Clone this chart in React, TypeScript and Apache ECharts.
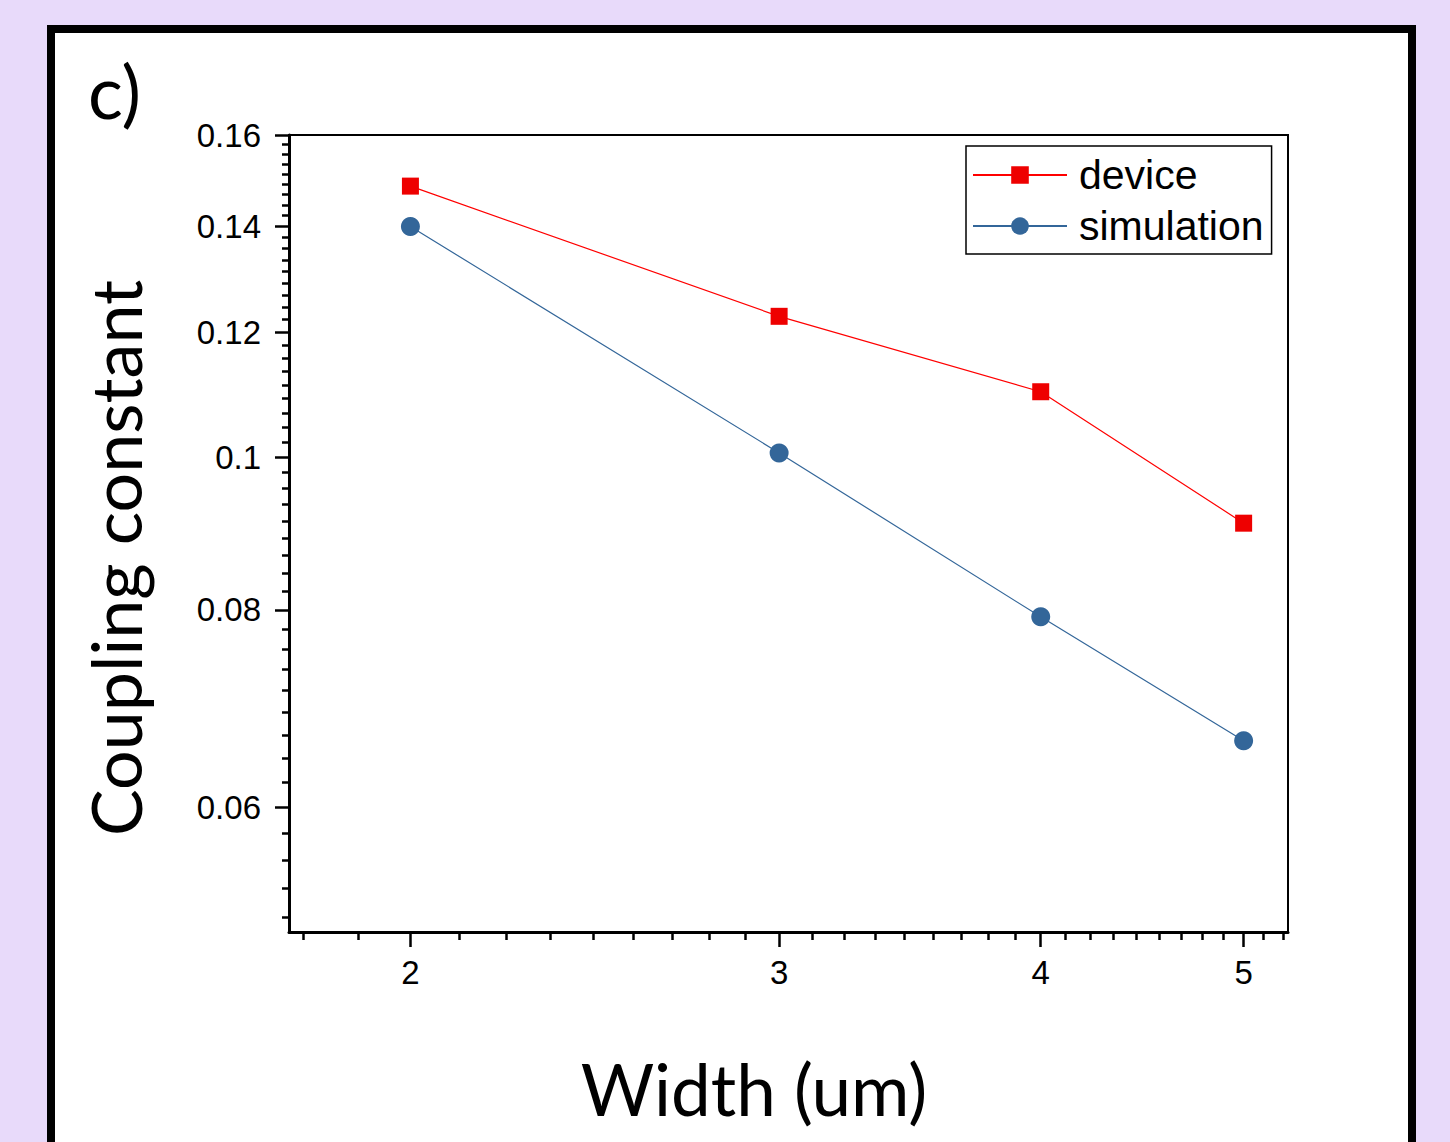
import React, { useEffect, useRef } from "react";
import * as echarts from "echarts";

// ---- data ----
const widths = [2, 3, 4, 5];
const deviceValues = [0.1485, 0.1228, 0.11, 0.0908];
const simulationValues = [0.14, 0.1006, 0.0792, 0.0661];

// ---- axes ----
const xRange = [1.75, 5.25];
const yRange = [0.05, 0.16];
const xMajorTicks = [2, 3, 4, 5];
const yMajorTicks = [0.06, 0.08, 0.1, 0.12, 0.14, 0.16];
const xMajorStep = 1;
const yMajorStep = 0.02;
const minorPerMajor = 8;

function minorTicks(range: number[], step: number, n: number): number[] {
  const out: number[] = [];
  const start = Math.floor(range[0] / step) * step;
  for (let base = start; base < range[1]; base += step) {
    for (let j = 1; j <= n; j++) {
      const v = +(base + (j * step) / (n + 1)).toFixed(6);
      if (v >= range[0] && v <= range[1]) out.push(v);
    }
  }
  return out;
}

const xMinorTicks = minorTicks(xRange, xMajorStep, minorPerMajor);
const yMinorTicks = minorTicks(yRange, yMajorStep, minorPerMajor);

const ARIAL = "'Liberation Sans', Arial, sans-serif";
const TITLE_FONT = "Lato, 'Open Sans', sans-serif";

export default function App() {
  const ref = useRef<HTMLDivElement>(null);

  useEffect(() => {
    if (!ref.current) return;
    const chart = echarts.init(ref.current, null, { renderer: "svg" });

    const grid = { left: 289, top: 135, width: 999, height: 797 };

    const option: any = {
      animation: false,
      backgroundColor: "#e8dafa",
      graphic: [
        {
          type: "rect",
          z: -10,
          silent: true,
          shape: { x: 51, y: 29, width: 1361, height: 1200 },
          style: { fill: "#ffffff", stroke: "#000000", lineWidth: 8 },
        },
        {
          type: "text",
          z: 10,
          x: 88,
          y: 91,
          style: {
            text: "c)",
            font: `73px ${TITLE_FONT}`,
            fill: "#000",
            verticalAlign: "middle",
            align: "left",
          },
        },
      ],
      grid: {
        ...grid,
        show: true,
        borderColor: "#000",
        borderWidth: 2,
        backgroundColor: "transparent",
      },
      legend: {
        left: 966,
        top: 146,
        orient: "vertical",
        padding: [6, 8, 5, 6],
        itemGap: 5,
        itemWidth: 94,
        itemHeight: 22,
        borderColor: "#000",
        borderWidth: 1.5,
        borderRadius: 0,
        textStyle: {
          fontFamily: ARIAL,
          fontSize: 41,
          color: "#000",
          lineHeight: 46,
          padding: [0, 0, 0, 7],
        },
        data: ["device", "simulation"],
      },
      xAxis: [
        {
          type: "log",
          logBase: 10,
          min: xRange[0],
          max: xRange[1],
          position: "bottom",
          name: "Width (um)",
          nameLocation: "middle",
          nameGap: 121,
          nameTextStyle: {
            fontFamily: TITLE_FONT,
            fontSize: 71,
            color: "#000",
            padding: [0, 69, 0, 0],
          },
          axisLine: { show: true, lineStyle: { color: "#000", width: 3 } },
          axisTick: {
            show: true,
            inside: false,
            length: 15,
            customValues: xMajorTicks,
            lineStyle: { color: "#000", width: 2.5 },
          },
          axisLabel: {
            show: true,
            customValues: xMajorTicks,
            margin: 24,
            fontFamily: ARIAL,
            fontSize: 33,
            color: "#000",
            formatter: (v: number) => `${Math.round(v)}`,
          },
          splitLine: { show: false },
          minorTick: { show: false },
        },
        {
          type: "log",
          logBase: 10,
          min: xRange[0],
          max: xRange[1],
          position: "bottom",
          axisLine: { show: false },
          axisTick: {
            show: true,
            inside: false,
            length: 8,
            customValues: xMinorTicks,
            lineStyle: { color: "#000", width: 2.5 },
          },
          axisLabel: { show: false },
          splitLine: { show: false },
        },
      ],
      yAxis: [
        {
          type: "log",
          logBase: 10,
          min: yRange[0],
          max: yRange[1],
          position: "left",
          name: "Coupling constant",
          nameLocation: "middle",
          nameRotate: 90,
          nameGap: 139,
          nameTextStyle: {
            fontFamily: TITLE_FONT,
            fontSize: 70,
            color: "#000",
            padding: [0, 49, 0, 0],
          },
          axisLine: { show: true, lineStyle: { color: "#000", width: 3 } },
          axisTick: {
            show: true,
            inside: false,
            length: 14,
            customValues: yMajorTicks,
            lineStyle: { color: "#000", width: 2.5 },
          },
          axisLabel: {
            show: true,
            customValues: yMajorTicks,
            margin: 28,
            fontFamily: ARIAL,
            fontSize: 33,
            color: "#000",
            formatter: (v: number) => `${+v.toFixed(2)}`,
          },
          splitLine: { show: false },
        },
        {
          type: "log",
          logBase: 10,
          min: yRange[0],
          max: yRange[1],
          position: "left",
          axisLine: { show: false },
          axisTick: {
            show: true,
            inside: false,
            length: 7,
            customValues: yMinorTicks,
            lineStyle: { color: "#000", width: 2.5 },
          },
          axisLabel: { show: false },
          splitLine: { show: false },
        },
      ],
      series: [
        {
          name: "device",
          type: "line",
          xAxisIndex: 0,
          yAxisIndex: 0,
          data: widths.map((w, i) => [w, deviceValues[i]]),
          symbol: "rect",
          symbolSize: 17,
          lineStyle: { color: "#ff0000", width: 1.2 },
          itemStyle: { color: "#ee0000" },
          z: 3,
        },
        {
          name: "simulation",
          type: "line",
          xAxisIndex: 0,
          yAxisIndex: 0,
          data: widths.map((w, i) => [w, simulationValues[i]]),
          symbol: "circle",
          symbolSize: 19,
          lineStyle: { color: "#336699", width: 1.2 },
          itemStyle: { color: "#336699" },
          z: 3,
        },
      ],
    };

    chart.setOption(option);
    return () => chart.dispose();
  }, []);

  return (
    <div
      ref={ref}
      style={{ position: "absolute", left: 0, top: 0, width: 1450, height: 1142 }}
    />
  );
}
